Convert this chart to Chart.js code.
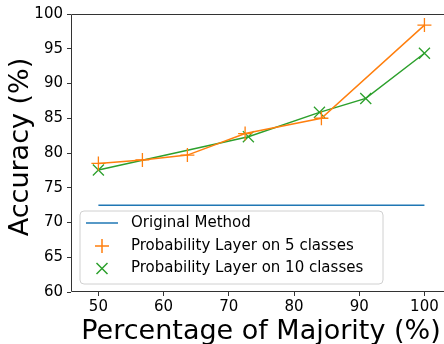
<!DOCTYPE html>
<html>
<head>
<meta charset="utf-8">
<script src="https://cdn.jsdelivr.net/npm/chart.js@4.4.1/dist/chart.umd.min.js"></script>
<style>
  html, body { margin: 0; padding: 0; background: #fff; overflow: hidden; }
  #chart { display: block; }
</style>
</head>
<body>
<canvas id="chart" width="444" height="344"></canvas>
<script>
// Accuracy against the share of the majority class
const xTicks = [50, 60, 70, 80, 90, 100];
const yTicks = [60, 65, 70, 75, 80, 85, 90, 95, 100];

const originalX = [50, 100];
const originalY = [72.5, 72.5];

const fiveX = [50, 56.75, 63.65, 72.5, 84.2, 100];
const fiveY = [78.5, 79.0, 79.7, 82.8, 85.0, 98.4];

const tenX = [50, 73.0, 83.9, 91.0, 100];
const tenY = [77.55, 82.35, 85.85, 87.85, 94.35];

const seriesLabels = [
  'Original Method',
  'Probability Layer on 5 classes',
  'Probability Layer on 10 classes'
];
const xTitle = 'Percentage of Majority (%)';
const yTitle = 'Accuracy (%)';

const FONT = "'DejaVu Sans', sans-serif";
const BLUE = '#1f77b4', ORANGE = '#ff7f0e', GREEN = '#2ca02c';

const toPoints = (xs, ys) => xs.map((x, i) => ({ x: x, y: ys[i] }));

// Left, top and bottom spines of the plot area (the right one runs past the canvas edge)
const framePlugin = {
  id: 'frame',
  beforeDatasetsDraw(chart) {
    const { ctx, chartArea: a } = chart;
    ctx.save();
    ctx.strokeStyle = '#333';
    ctx.lineWidth = 1;
    ctx.beginPath();
    ctx.moveTo(chart.width + 2, a.top + 0.5);
    ctx.lineTo(a.left + 0.5, a.top + 0.5);
    ctx.lineTo(a.left + 0.5, a.bottom - 0.5);
    ctx.lineTo(chart.width + 2, a.bottom - 0.5);
    ctx.stroke();
    ctx.restore();
  }
};

// Axis titles
const axisTitles = {
  id: 'axisTitles',
  afterDraw(chart) {
    const { ctx } = chart;
    ctx.save();
    ctx.fillStyle = '#000';
    ctx.font = '27px ' + FONT;
    ctx.textAlign = 'center';
    ctx.textBaseline = 'alphabetic';
    ctx.fillText(xTitle, 261, 338.5);
    ctx.translate(27.5, 147);
    ctx.rotate(-Math.PI / 2);
    ctx.fillText(yTitle, 0, 0);
    ctx.restore();
  }
};

// Legend box in the lower left of the plot area
const boxLegend = {
  id: 'boxLegend',
  afterDatasetsDraw(chart) {
    const { ctx, chartArea: a } = chart;
    const x0 = a.left + 9, y0 = 211, w = 303, h = 73, r = 4;
    ctx.save();
    ctx.beginPath();
    ctx.moveTo(x0 + r, y0);
    ctx.arcTo(x0 + w, y0, x0 + w, y0 + h, r);
    ctx.arcTo(x0 + w, y0 + h, x0, y0 + h, r);
    ctx.arcTo(x0, y0 + h, x0, y0, r);
    ctx.arcTo(x0, y0, x0 + w, y0, r);
    ctx.closePath();
    ctx.fillStyle = 'rgba(255,255,255,0.8)';
    ctx.fill();
    ctx.strokeStyle = '#d0d0d0';
    ctx.lineWidth = 1;
    ctx.stroke();

    const rows = [223, 246, 268.5];
    const hx0 = x0 + 6, hx1 = x0 + 38, hc = (hx0 + hx1) / 2;
    chart.data.datasets.forEach((ds, i) => {
      const yy = rows[i];
      ctx.strokeStyle = ds.borderColor;
      ctx.lineWidth = 1.5;
      ctx.beginPath();
      if (ds.pointStyle === 'cross') {
        ctx.moveTo(hc - 7, yy); ctx.lineTo(hc + 7, yy);
        ctx.moveTo(hc, yy - 7); ctx.lineTo(hc, yy + 7);
      } else if (ds.pointStyle === 'crossRot') {
        ctx.moveTo(hc - 5.5, yy - 5.5); ctx.lineTo(hc + 5.5, yy + 5.5);
        ctx.moveTo(hc - 5.5, yy + 5.5); ctx.lineTo(hc + 5.5, yy - 5.5);
      } else {
        ctx.moveTo(hx0, yy); ctx.lineTo(hx1, yy);
      }
      ctx.stroke();
      ctx.fillStyle = '#000';
      ctx.font = '15px ' + FONT;
      ctx.textBaseline = 'middle';
      ctx.textAlign = 'left';
      ctx.fillText(seriesLabels[i], x0 + 51, yy);
    });
    ctx.restore();
  }
};

new Chart(document.getElementById('chart'), {
  type: 'line',
  data: {
    datasets: [
      {
        label: seriesLabels[0],
        data: toPoints(originalX, originalY),
        borderColor: BLUE,
        borderWidth: 1.5,
        pointRadius: 0,
        pointStyle: false,
        fill: false,
        tension: 0
      },
      {
        label: seriesLabels[1],
        data: toPoints(fiveX, fiveY),
        borderColor: ORANGE,
        backgroundColor: ORANGE,
        borderWidth: 1.5,
        pointStyle: 'cross',
        pointRadius: 7,
        pointBorderWidth: 1.3,
        fill: false,
        tension: 0
      },
      {
        label: seriesLabels[2],
        data: toPoints(tenX, tenY),
        borderColor: GREEN,
        backgroundColor: GREEN,
        borderWidth: 1.5,
        pointStyle: 'crossRot',
        pointRadius: 7.8,
        pointBorderWidth: 1.3,
        fill: false,
        tension: 0
      }
    ]
  },
  options: {
    responsive: false,
    animation: false,
    layout: { autoPadding: false, padding: { top: 14, left: 0, right: 0, bottom: 0 } },
    plugins: { legend: { display: false }, tooltip: { enabled: false } },
    scales: {
      x: {
        type: 'linear',
        min: 45.8,
        max: 103.0,
        afterFit(scale) {
          scale.height = 52;
          scale.paddingLeft = 0;
          scale.paddingRight = 0;
        },
        afterBuildTicks(scale) { scale.ticks = xTicks.map(v => ({ value: v })); },
        border: { display: false },
        grid: { drawOnChartArea: false, drawTicks: true, tickLength: 4, color: '#333', lineWidth: 1 },
        ticks: { color: '#000', font: { family: FONT, size: 15 }, padding: 2, maxRotation: 0 },
        title: { display: false }
      },
      y: {
        type: 'linear',
        min: 60,
        max: 100,
        afterFit(scale) {
          scale.width = 71;
          scale.paddingTop = 0;
          scale.paddingBottom = 0;
        },
        afterBuildTicks(scale) { scale.ticks = yTicks.map(v => ({ value: v })); },
        border: { display: false },
        grid: { drawOnChartArea: false, drawTicks: true, tickLength: 4, color: '#333', lineWidth: 1 },
        ticks: { color: '#000', font: { family: FONT, size: 15 }, padding: 4 },
        title: { display: false }
      }
    }
  },
  plugins: [framePlugin, boxLegend, axisTitles]
});
</script>
</body>
</html>
